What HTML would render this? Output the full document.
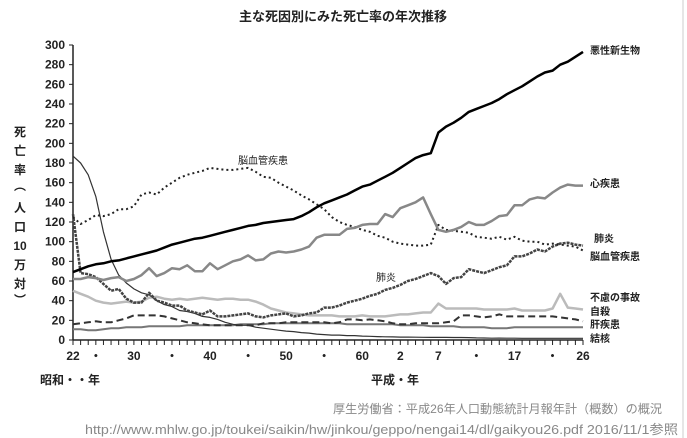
<!DOCTYPE html>
<html><head><meta charset="utf-8">
<style>
body{margin:0;background:#fff;}
svg{display:block;font-family:"Liberation Sans","Noto Sans CJK JP",sans-serif;}
</style></head>
<body>
<svg id="chart" width="687" height="438" viewBox="0 0 687 438">
<text x="343" y="21" text-anchor="middle" font-size="13" font-weight="bold" fill="#222">主な死因別にみた死亡率の年次推移</text>
<line x1="683" y1="0" x2="683" y2="438" stroke="#ccc" stroke-width="1"/>
<g id="yaxis-title" font-size="12" font-weight="bold" fill="#222" text-anchor="middle">
<text x="20" y="136">死</text><text x="20" y="155">亡</text><text x="20" y="174">率</text><text x="20" y="190">︵</text><text x="20" y="212">人</text><text x="20" y="231">口</text><text x="20" y="250" font-size="12">10</text><text x="20" y="269">万</text><text x="20" y="288">対</text><text x="20" y="304">︶</text>
</g>
<g id="axes"></g>
<g id="series"></g>
<g id="labels" font-size="10" font-weight="bold" fill="#222">
<text x="590" y="54">悪性新生物</text>
<text x="590" y="187">心疾患</text>
<text x="594" y="242">肺炎</text>
<text x="590" y="260">脳血管疾患</text>
<text x="590" y="301">不慮の事故</text>
<text x="590" y="315">自殺</text>
<text x="590" y="328">肝疾患</text>
<text x="590" y="342">結核</text>
<text x="238" y="164" font-weight="normal">脳血管疾患</text>
<text x="376" y="281" font-weight="normal">肺炎</text>
</g>
<text x="40" y="384" font-size="12" font-weight="bold" fill="#222">昭和・・年</text>
<text x="371" y="384" font-size="12" font-weight="bold" fill="#222">平成・年</text>
<text x="333" y="413" textLength="329" lengthAdjust="spacingAndGlyphs" font-size="12" fill="#888">厚生労働省：平成26年人口動態統計月報年計（概数）の概況</text>
<text x="85" y="434" textLength="593" lengthAdjust="spacingAndGlyphs" font-size="13" fill="#888">http://www.mhlw.go.jp/toukei/saikin/hw/jinkou/geppo/nengai14/dl/gaikyou26.pdf  2016/11/1参照</text>
</svg>
<script>
const startYear = 1947;
const yTicks = [0,20,40,60,80,100,120,140,160,180,200,220,240,260,280,300];
const xLabelYears = [1947,1950,1955,1960,1965,1970,1975,1980,1985,1990,1995,2000,2005,2010,2014];
const xLabelTexts = ["22","・","30","・","40","・","50","・","60","2","7","・","17","・","26"];
const cancer = [69,72,75,77,78,80,81,83,85,87, 89,91,94,97,99,101,103,104,106,108, 110,112,114,116,117,119,120,121,122,123, 126,130,135,139,142,145,148,152,156,158, 162,166,170,175,180,185,188,190,211,217, 221,226,232,235,238,241,245,250,254,258, 263,268,272,274,280,283,288,293];
const heart = [62,62,64,63,61,63,64,60,62,66, 73,65,68,73,72,76,70,70,78,72, 76,80,82,86,81,82,88,90,89,90, 92,95,104,107,107,107,113,114,117,118, 118,128,125,134,137,140,145,128,112,110, 112,115,120,117,117,121,126,127,137,137, 143,145,144,150,155,158,157,157];
const cerebro = [125,118,122,127,126,128,133,133,136,148, 150,148,155,160,165,168,170,172,175,174, 173,173,174,175,171,166,165,160,156,152, 147,143,138,133,125,120,117,115,112,110, 106,104,100,98,97,96,96,97,117,112, 111,110,109,105,104,103,105,102,105,101, 100,100,97,98,97,96,95,91];
const pneumonia = [128,68,67,64,57,50,52,42,38,38, 48,40,38,35,35,30,28,26,30,24, 24,25,26,27,24,23,25,26,27,24, 25,27,28,33,33,35,38,40,42,45, 47,51,53,56,60,62,65,68,65,57, 63,64,72,70,68,71,74,76,85,85, 88,92,90,95,98,99,97,96];
const tuberculosis = [187,180,168,146,110,82,66,58,52,48, 46,40,36,34,30,29,27,24,23,21, 18,16,15,15,13,12,11,10,9,8.5, 7.5,7,6,5.5,5,5,4.5,4.5,4,3.8, 3.5,3.3,3.2,3,2.9,2.8,2.7,2.6,2.6,2.6, 2.5,2.5,2.4,2.1,2,1.8,1.9,1.8,1.8,1.7, 1.7,1.7,1.7,1.7,1.7,1.7,1.7,1.7];
const accident = [50,47,44,40,38,37,38,39,38,39, 43,44,42,41,42,41,42,43,42,41, 42,42,41,41,39,36,32,30,28,27, 26,25,25,25,25,24,24,24,25,24, 24,24,25,26,26,27,28,28,37,32, 32,32,32,32,31,31,31,31,32,30, 30,30,30,32,47,33,32,31];
const suicide = [16,17,18,19,18,18,20,22,25,25, 25,25,24,22,20,18,17,16,15,15, 15,15,15,15,15,17,17,17,18,18, 18,18,18,18,17,18,21,21,20,21, 20,19,17,16,16,17,17,17,17,18, 19,25,25,24,23,24,26,24,24,24, 24,24,24,24,23,22,21,19];
const liver = [11,11,10,10,11,12,12,13,13,13, 14,14,14,14,14,15,15,15,15,15, 15,15,16,16,16,16,17,17,17,17, 17,17,17,17,17,17,16,16,16,16, 16,16,16,15,15,15,15,14,14,14, 14,13,13,13,13,12,12,12,13,13, 13,13,13,13,13,13,13,13];

const X0=73, X1=583, Y0=340, Y1=45;
function xs(year){return X0+(year-1947)*(X1-X0)/(2014-1947);}
function ys(v){return Y0-v*(Y0-Y1)/300;}
const NS="http://www.w3.org/2000/svg";
const axes=document.getElementById('axes');
function mk(tag,attrs,parent){const e=document.createElementNS(NS,tag);for(const k in attrs)e.setAttribute(k,attrs[k]);parent.appendChild(e);return e;}

let yl=mk('line',{x1:X0,y1:Y1,x2:X0,y2:Y0,stroke:'#222','stroke-width':1.5},axes);


let xl=mk('line',{x1:X0,y1:Y0,x2:X1,y2:Y0,stroke:'#222','stroke-width':1.5},axes);


yTicks.forEach(v=>{
  mk('line',{x1:X0-4,y1:ys(v),x2:X0,y2:ys(v),stroke:'#222','stroke-width':1},axes);
  const t=mk('text',{x:X0-8,y:ys(v)+4,'text-anchor':'end','font-size':12,'font-weight':'bold',fill:'#222'},axes);
  t.textContent=v;
  
  
});
for(let y=1947;y<=2014;y++){
  mk('line',{x1:xs(y),y1:Y0,x2:xs(y),y2:Y0+5,stroke:'#222','stroke-width':1},axes);
}
xLabelYears.forEach((y,i)=>{
  const t=mk('text',{x:xs(y),y:360,'text-anchor':'middle','font-size':12,'font-weight':'bold',fill:'#222'},axes);
  t.textContent=xLabelTexts[i];
  
  
});

const seriesG=document.getElementById('series');
function draw(data,name,style){
  const d=data.map((v,i)=>(i?'L':'M')+xs(startYear+i).toFixed(1)+','+ys(v).toFixed(1)).join('');
  const p=mk('path',Object.assign({d:d,fill:'none','stroke-linejoin':'round'},style),seriesG);
  
  
}
draw(liver,'line-liver',{stroke:'#777','stroke-width':2});
draw(suicide,'line-suicide',{stroke:'#333','stroke-width':2,'stroke-dasharray':'7,4'});
draw(accident,'line-accident',{stroke:'#bbb','stroke-width':2.5});
draw(tuberculosis,'line-tuberculosis',{stroke:'#333','stroke-width':1.2});
draw(pneumonia,'line-pneumonia',{stroke:'#444','stroke-width':2.5,'stroke-dasharray':'3,1'});
draw(cerebro,'line-cerebrovascular',{stroke:'#222','stroke-width':2,'stroke-dasharray':'2,3'});
draw(heart,'line-heart',{stroke:'#888','stroke-width':2.5});
draw(cancer,'line-cancer',{stroke:'#000','stroke-width':2.5});
</script>
</body></html>
